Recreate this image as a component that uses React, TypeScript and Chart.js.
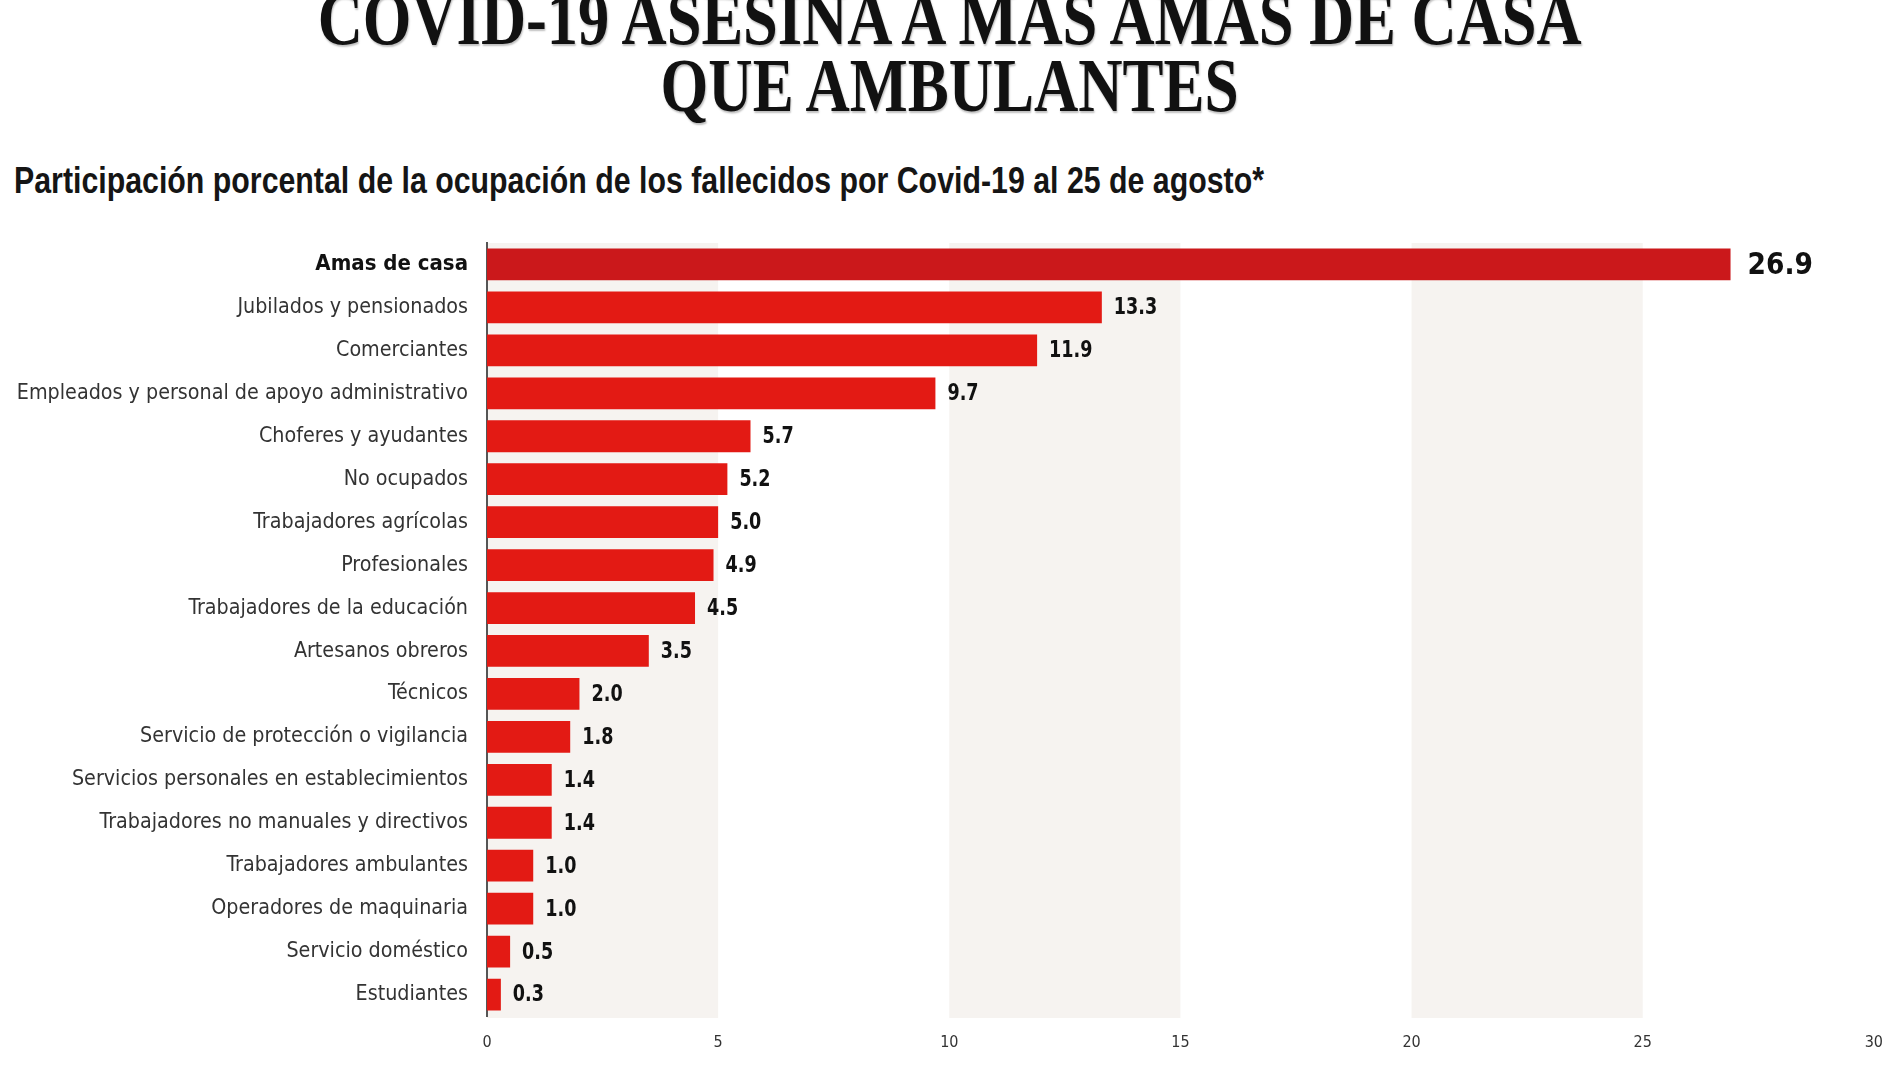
import React, { useEffect, useLayoutEffect, useRef } from "react";
import { Chart, registerables } from "chart.js";

Chart.register(...registerables);

const titleLines = ["COVID-19 ASESINA A MÁS AMAS DE CASA", "QUE AMBULANTES"];
const subtitle = "Participación porcental de la ocupación de los fallecidos por Covid-19 al 25 de agosto*";

const categories = [
  "Amas de casa",
  "Jubilados y pensionados",
  "Comerciantes",
  "Empleados y personal de apoyo administrativo",
  "Choferes y ayudantes",
  "No ocupados",
  "Trabajadores agrícolas",
  "Profesionales",
  "Trabajadores de la educación",
  "Artesanos obreros",
  "Técnicos",
  "Servicio de protección o vigilancia",
  "Servicios personales en establecimientos",
  "Trabajadores no manuales y directivos",
  "Trabajadores ambulantes",
  "Operadores de maquinaria",
  "Servicio doméstico",
  "Estudiantes",
];

const values = [26.9, 13.3, 11.9, 9.7, 5.7, 5.2, 5.0, 4.9, 4.5, 3.5, 2.0, 1.8, 1.4, 1.4, 1.0, 1.0, 0.5, 0.3];

const bandRanges: [number, number][] = [
  [0, 5],
  [10, 15],
  [20, 25],
];

const SANS = '"Liberation Sans Narrow", "DejaVu Sans Condensed", "Roboto Condensed", Roboto, sans-serif';

const bandsPlugin = {
  id: "bands",
  beforeDraw(chart: any) {
    const { ctx, chartArea, scales } = chart;
    const x = scales.x;
    ctx.save();
    ctx.fillStyle = "#f6f3f0";
    for (const [a, b] of bandRanges) {
      const x0 = x.getPixelForValue(a);
      const x1 = x.getPixelForValue(b);
      ctx.fillRect(x0, chartArea.top, x1 - x0, chartArea.bottom - chartArea.top + 2);
    }
    ctx.restore();
  },
};

const valueLabelsPlugin = {
  id: "valueLabels",
  afterDatasetsDraw(chart: any) {
    const { ctx } = chart;
    const meta = chart.getDatasetMeta(0);
    meta.data.forEach((bar: any, i: number) => {
      const v = values[i];
      const first = i === 0;
      ctx.save();
      ctx.textBaseline = "middle";
      ctx.textAlign = "left";
      ctx.font = `bold ${first ? 31 : 23}px ${SANS}`;
      ctx.fillStyle = "#111";
      ctx.translate(bar.x + (first ? 17 : 12), bar.y + 1);
      ctx.scale(first ? 0.95 : 0.85, 1);
      ctx.fillText(v.toFixed(1), 0, 0);
      ctx.restore();
    });
  },
};

function ScaledLine(props: { text: string; style: React.CSSProperties; target: number; origin: string }) {
  const ref = useRef<HTMLSpanElement>(null);
  useLayoutEffect(() => {
    const el = ref.current;
    if (!el) return;
    el.style.transform = "none";
    const w = el.getBoundingClientRect().width;
    if (w > 0) el.style.transform = `scaleX(${props.target / w})`;
  }, [props.text, props.target]);
  return (
    <span
      ref={ref}
      style={{ display: "inline-block", whiteSpace: "nowrap", transformOrigin: props.origin, ...props.style }}
    >
      {props.text}
    </span>
  );
}

export default function App() {
  const canvasRef = useRef<HTMLCanvasElement>(null);

  useEffect(() => {
    document.body.style.margin = "0";
    const canvas = canvasRef.current;
    if (!canvas) return;
    const chart = new Chart(canvas, {
      type: "bar",
      data: {
        labels: categories,
        datasets: [
          {
            data: values,
            backgroundColor: values.map((_, i) => (i === 0 ? "#cb181b" : "#e31a14")),
            borderWidth: 0,
            barPercentage: 0.74,
            categoryPercentage: 1,
          },
        ],
      },
      options: {
        indexAxis: "y",
        animation: false,
        responsive: false,
        maintainAspectRatio: false,
        layout: { padding: { top: 243, left: 0, right: 18, bottom: 0 } },
        plugins: {
          legend: { display: false },
          tooltip: { enabled: false },
          title: { display: false },
        },
        scales: {
          x: {
            min: 0,
            max: 30,
            grid: { display: false, drawTicks: false },
            border: { display: false },
            ticks: {
              stepSize: 5,
              padding: 17,
              color: "#333",
              font: { family: SANS, size: 16 },
            },
            afterFit(scale: any) {
              scale.height = 52;
            },
          },
          y: {
            grid: { display: false, drawTicks: false },
            border: { display: true, color: "#555", width: 2 },
            ticks: {
              padding: 19,
              autoSkip: false,
              color: (ctx: any) => (ctx.index === 0 ? "#111" : "#333"),
              font: (ctx: any) =>
                ctx.index === 0
                  ? { family: SANS, size: 22, weight: "bold" }
                  : { family: SANS, size: 21.3, weight: "normal" },
            },
            afterFit(scale: any) {
              scale.width = 487;
            },
          },
        },
      },
      plugins: [bandsPlugin, valueLabelsPlugin],
    });
    return () => chart.destroy();
  }, []);

  return (
    <div style={{ position: "relative", width: 1900, height: 1068, overflow: "hidden", background: "#fff" }}>
      <div
        style={{
          position: "absolute",
          left: 0,
          top: -15.5,
          width: 1900,
          textAlign: "center",
          fontFamily: '"Liberation Serif", "DejaVu Serif", serif',
          fontWeight: "bold",
          fontSize: 77,
          lineHeight: "67px",
          color: "#111",
          textShadow: "1px 2px 2px rgba(0,0,0,0.25)",
        }}
      >
        <div>
          <ScaledLine text={titleLines[0]} style={{}} target={1264} origin="center" />
        </div>
        <div>
          <ScaledLine text={titleLines[1]} style={{}} target={578} origin="center" />
        </div>
      </div>
      <div
        style={{
          position: "absolute",
          left: 14,
          top: 161,
          fontFamily: '"Liberation Sans", Arial, sans-serif',
          fontWeight: "bold",
          fontSize: 36,
          lineHeight: "40px",
          color: "#151515",
        }}
      >
        <ScaledLine text={subtitle} style={{}} target={1250} origin="left" />
      </div>
      <canvas
        ref={canvasRef}
        width={1900}
        height={1068}
        style={{ position: "absolute", left: 0, top: 0, width: 1900, height: 1068 }}
      />
    </div>
  );
}
